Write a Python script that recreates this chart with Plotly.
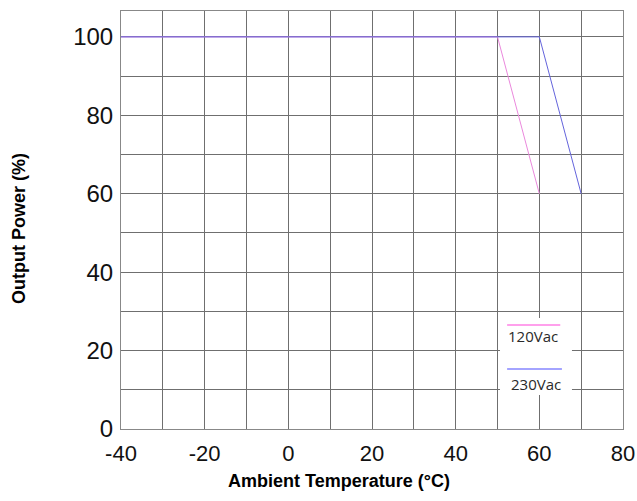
import plotly.graph_objects as go

# Data
x_120 = [-40, 50, 60]
y_120 = [100, 100, 60]
x_230 = [-40, 60, 70]
y_230 = [100, 100, 60]
series_names = ["120Vac", "230Vac"]
series_colors = ["#ea88dc", "#6464dc"]
legend_colors = ["#ffa0ec", "#a4a4ff"]

x_tickvals = list(range(-40, 81, 10))
x_ticktext = ["-40", "", "-20", "", "0", "", "20", "", "40", "", "60", "", "80"]
y_tickvals = list(range(0, 101, 10))
y_ticktext = ["0", "", "20", "", "40", "", "60", "", "80", "", "100"]

grid_color = "#6f6f6f"

L, R, T, B = 121, 14, 11, 72
W, H = 637, 501
pw, ph = W - L - R, H - T - B


def px2paper(px, py):
    return (px - L) / pw, 1 - (py - T) / ph


fig = go.Figure()
fig.add_trace(go.Scatter(x=x_120, y=y_120, mode="lines", name=series_names[0],
                         line=dict(color=series_colors[0], width=1), showlegend=False))
fig.add_trace(go.Scatter(x=x_230, y=y_230, mode="lines", name=series_names[1],
                         line=dict(color=series_colors[1], width=1), showlegend=False))

# Custom legend (box, sample lines, labels)
fig.add_shape(type="rect", xref="x", yref="y", x0=50.6, x1=67.8, y0=8.7, y1=28.3,
              fillcolor="white", line=dict(width=0), layer="above")
fig.add_shape(type="line", xref="x", yref="y", x0=52.3, x1=65.0, y0=26.5, y1=26.5,
              line=dict(color=legend_colors[0], width=2), layer="above")
fig.add_shape(type="line", xref="x", yref="y", x0=52.3, x1=65.4, y0=15.3, y1=15.3,
              line=dict(color=legend_colors[1], width=2), layer="above")
legend_font = dict(family="Open Sans, Liberation Sans, sans-serif", size=15, color="#2a2a2a")
fig.add_annotation(x=58.6, y=23.6, xref="x", yref="y", text=series_names[0], showarrow=False,
                   xanchor="center", yanchor="middle", font=legend_font)
fig.add_annotation(x=59.1, y=11.6, xref="x", yref="y", text=series_names[1], showarrow=False,
                   xanchor="center", yanchor="middle", font=legend_font)

# Axis titles
title_font = dict(family="Liberation Sans, Arial, sans-serif", size=18, color="#000000", weight="bold")
ax, ay = px2paper(19, 229)
fig.add_annotation(x=ax, y=ay, xref="paper", yref="paper", text="Output Power (%)", showarrow=False,
                   textangle=-90, xanchor="center", yanchor="middle", font=title_font)
ax, ay = px2paper(339, 481)
fig.add_annotation(x=ax, y=ay, xref="paper", yref="paper", text="Ambient Temperature (°C)",
                   showarrow=False, xanchor="center", yanchor="middle", font=title_font)

fig.update_layout(
    width=W, height=H,
    margin=dict(l=L, r=R, t=T, b=B, autoexpand=False),
    paper_bgcolor="white", plot_bgcolor="white",
    xaxis=dict(range=[-40, 80], tickvals=x_tickvals, ticktext=x_ticktext,
               showgrid=True, gridcolor=grid_color, gridwidth=1,
               showline=True, linecolor="#888888", mirror=True, zeroline=False,
               tickfont=dict(family="Liberation Sans, Arial, sans-serif", size=22, color="#111111"),
               ticks="", ticklabelstandoff=5, automargin=False,
               ticklabeloverflow="allow"),
    yaxis=dict(range=[0, 106.6], tickvals=y_tickvals, ticktext=y_ticktext,
               showgrid=True, gridcolor=grid_color, gridwidth=1,
               showline=True, linecolor="#888888", mirror=True, zeroline=False,
               tickfont=dict(family="Liberation Sans, Arial, sans-serif", size=24, color="#111111"),
               ticks="", ticklabelstandoff=2, automargin=False),
)

fig.write_html("out.html")
